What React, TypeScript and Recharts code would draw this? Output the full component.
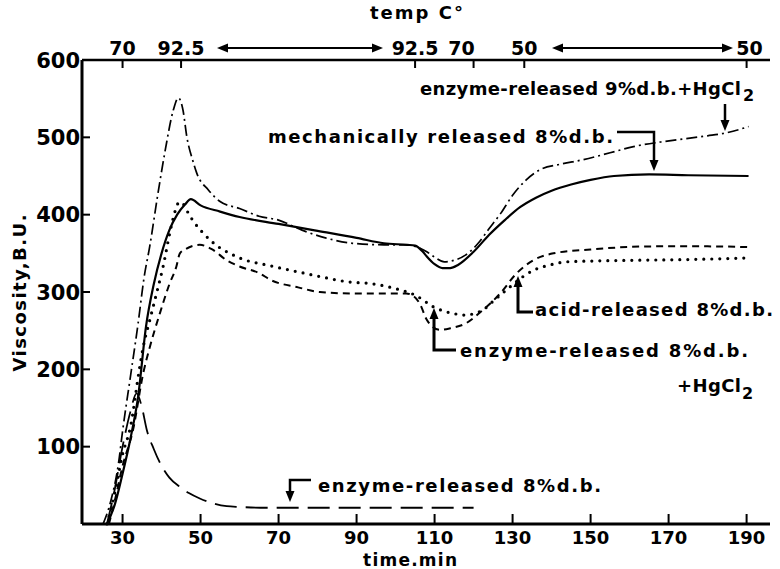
// Viscosity vs time (Brabender curves)
import React from "react";
import { LineChart, Line, XAxis, YAxis } from "recharts";

// ---- data (time in min, viscosity in B.U.) ----
const mechT = [26, 28, 30, 32, 34, 36, 38, 40, 42, 44, 46, 47.5, 50, 55, 60, 70, 80, 90, 97, 103, 105, 107, 108, 110, 112, 114, 116, 120, 124, 128, 132, 136, 140, 145, 150, 156, 165, 175, 190.5];
const mechV = [0, 25, 65, 110, 165, 255, 310, 350, 380, 400, 413, 420, 412, 404, 397, 388, 379, 370, 363, 361, 360, 352, 346, 336, 331, 331, 335, 352, 374, 393, 410, 422, 431, 439, 445, 450, 452, 451, 450];

const enz9T = [25, 27, 29, 30, 32, 34, 35.5, 37, 39, 41, 43, 44.3, 45.5, 46.5, 48, 49, 52, 55, 60, 65, 70, 76, 82, 89, 97, 103, 105, 108, 110, 112.5, 115, 118, 121, 124, 127, 130, 133.5, 137, 142, 148, 155, 161, 168, 174, 180, 184, 188, 190.5];
const enz9V = [0, 30, 80, 120, 190, 260, 318, 360, 425, 485, 535, 551, 535, 500, 470, 454, 432, 417, 408, 398, 393, 380, 370, 363, 361, 361, 359, 352, 345, 339, 341, 348, 362, 382, 402, 425, 445, 458, 465, 471, 480, 488, 494, 498, 502, 505, 510, 514];

const acidT = [26, 28, 30, 32, 34.4, 35.3, 37, 38.7, 40.4, 42.1, 43.5, 44.5, 45.5, 46.4, 47.7, 50.7, 55, 57.5, 60, 67.8, 75, 80.6, 88, 93.4, 101, 103, 105.4, 107.5, 109.6, 112, 115, 118.2, 120, 122.5, 125, 128.5, 132.7, 135.3, 139.6, 143.8, 150, 161, 175, 190.5];
const acidV = [0, 40, 90, 125, 203, 229, 264, 298, 333, 376, 405, 416, 414, 406, 395, 376, 357, 350, 344, 334, 326, 320, 313, 311, 303, 300, 295, 288, 281, 276, 272, 270, 272, 277, 288, 303, 320, 328, 335, 339, 340, 341, 342, 344];

const enzHgT = [26.5, 28, 30, 32.7, 35.3, 37, 39.6, 42, 43.8, 44.7, 46, 49.8, 53, 56.7, 60, 65.2, 67.8, 75, 80.6, 90, 97, 102.7, 104.5, 106.2, 108, 109.5, 111.4, 114, 118.2, 122, 126.8, 131, 135.3, 140.5, 150, 166, 180, 190.5];
const enzHgV = [0, 30, 75, 122, 195, 229, 273, 310, 333, 350, 355, 361, 355, 341, 333, 324, 316, 306, 300, 298, 298, 298, 295, 285, 264, 255, 251, 253, 260, 275, 298, 324, 341, 350, 355, 359, 359, 358];

const enz8T = [26, 28, 30, 32, 33.6, 35, 36.2, 38, 39.6, 42, 44.7, 47, 49.8, 53, 56.7, 60, 66.9, 80, 100, 120];
const enz8V = [0, 45, 100, 145, 169, 150, 122, 97, 79, 60, 48, 40, 33, 27, 23, 22, 21, 21, 21, 21];

const timeTicks = [30, 50, 70, 90, 110, 130, 150, 170, 190];
const viscTicks = [100, 200, 300, 400, 500, 600];
const tempTicks = [30, 45, 105, 120, 133, 190];
const tempLabels = ["70", "92.5", "92.5", "70", "50", "50"];

const zip = (t: number[], v: number[]) => t.map((x, i) => ({ t: x, v: v[i] }));

const FONT = "DejaVu Sans";
const txt = { fontFamily: FONT, fontWeight: 700, fontSize: 18, fill: "#000" } as const;

// ticks point into the plot, drawn by hand
const BottomTick = ({ x, y, payload }: any) => (
  <g>
    <line x1={x} y1={y} x2={x} y2={y - 10} stroke="#000" strokeWidth={2} />
    <text {...txt} x={x} y={y + 20} textAnchor="middle">{payload.value}</text>
  </g>
);
const LeftTick = ({ x, y, payload }: any) => (
  <g>
    <line x1={x} y1={y} x2={x + 8} y2={y} stroke="#000" strokeWidth={2} />
    <text {...txt} fontSize={21} x={x - 2} y={y} dy="0.36em" textAnchor="end">{payload.value}</text>
  </g>
);
const TopTick = ({ x, y, payload }: any) => {
  const i = tempTicks.indexOf(payload.value);
  const nudge = i === 3 ? -12 : i === 5 ? 3 : 0;
  return (
    <g>
      <line x1={x} y1={y} x2={x} y2={y + 8} stroke="#000" strokeWidth={2} />
      <text {...txt} fontSize={19} x={x + nudge} y={y - 5} textAnchor="middle">{tempLabels[i]}</text>
    </g>
  );
};

const Head = ({ x, y, dir }: { x: number; y: number; dir: "up" | "down" | "left" | "right" }) => {
  const l = 11, w = 4.5;
  let pts = "";
  if (dir === "down") pts = `${x},${y} ${x - w},${y - l} ${x + w},${y - l}`;
  if (dir === "up") pts = `${x},${y} ${x - w},${y + l} ${x + w},${y + l}`;
  if (dir === "left") pts = `${x},${y} ${x + l},${y - w} ${x + l},${y + w}`;
  if (dir === "right") pts = `${x},${y} ${x - l},${y - w} ${x - l},${y + w}`;
  return <polygon points={pts} fill="#000" />;
};

const Overlay = () => (
  <svg width={780} height={569} style={{ position: "absolute", left: 0, top: 0, pointerEvents: "none" }}>
    <g stroke="#000" strokeWidth={2.5} fill="none">
      {/* temperature range arrows */}
      <line x1={224} y1={48} x2={376} y2={48} strokeWidth={2} />
      <line x1={559} y1={48} x2={726} y2={48} strokeWidth={2} />
      {/* 9% arrow */}
      <line x1={725} y1={104} x2={725} y2={122} />
      {/* mechanical arrow */}
      <polyline points="617,132 654,132 654,162" />
      {/* acid arrow */}
      <polyline points="518,285 518,312 533,312" strokeWidth={3} />
      {/* enzyme 8% + HgCl2 arrow */}
      <polyline points="434,318 434,350 456,350" strokeWidth={3} />
      {/* enzyme 8% arrow */}
      <polyline points="311,480 290,480 290,494" />
    </g>
    <Head x={217} y={48} dir="left" />
    <Head x={383} y={48} dir="right" />
    <Head x={552} y={48} dir="left" />
    <Head x={733} y={48} dir="right" />
    <Head x={725} y={131} dir="down" />
    <Head x={654} y={171} dir="down" />
    <Head x={518} y={276} dir="up" />
    <Head x={434} y={308} dir="up" />
    <Head x={290} y={502} dir="down" />

    <text {...txt} x={370} y={19} textLength={93}>temp C°</text>
    <text {...txt} x={420} y={95} textLength={321}>enzyme-released 9%d.b.+HgCl</text>
    <text {...txt} x={743} y={101} fontSize={16}>2</text>
    <text {...txt} x={268} y={143} textLength={345}>mechanically released 8%d.b.</text>
    <text {...txt} x={535} y={316} textLength={238}>acid-released 8%d.b.</text>
    <text {...txt} x={460} y={357} textLength={288}>enzyme-released 8%d.b.</text>
    <text {...txt} x={677} y={392} textLength={64}>+HgCl</text>
    <text {...txt} x={742} y={399} fontSize={16}>2</text>
    <text {...txt} x={318} y={492} textLength={283}>enzyme-released 8%d.b.</text>
    <text {...txt} fontSize={17} x={363} y={566} textLength={94}>time.min</text>
    <text {...txt} x={0} y={0} textAnchor="middle" textLength={157} transform="translate(26,293) rotate(-90)">
      Viscosity,B.U.
    </text>
  </svg>
);

export default function App() {
  const axisLine = { stroke: "#000", strokeWidth: 3 };
  return (
    <div style={{ position: "absolute", left: 0, top: 0, width: 780, height: 569, background: "#fff" }}>
      <LineChart width={780} height={569} margin={{ top: 30, right: 10, bottom: 15, left: 22 }}>
        <XAxis
          dataKey="t"
          type="number"
          domain={[19.6, 196]}
          ticks={timeTicks}
          allowDataOverflow
          height={30}
          axisLine={axisLine}
          tickLine={false}
          tickSize={0}
          tickMargin={0}
          tick={<BottomTick />}
        />
        <XAxis
          xAxisId="top"
          orientation="top"
          dataKey="t"
          type="number"
          domain={[19.6, 196]}
          ticks={tempTicks}
          allowDataOverflow
          height={30}
          axisLine={{ stroke: "#000", strokeWidth: 2.5 }}
          tickLine={false}
          tickSize={0}
          tickMargin={0}
          tick={<TopTick />}
        />
        <YAxis
          type="number"
          domain={[0, 600]}
          ticks={viscTicks}
          width={60}
          axisLine={axisLine}
          tickLine={false}
          tickSize={0}
          tickMargin={0}
          tick={<LeftTick />}
        />
        <Line data={zip(enz8T, enz8V)} dataKey="v" type="monotone" stroke="#000" strokeWidth={1.8} strokeDasharray="22 9" dot={false} activeDot={false} isAnimationActive={false} />
        <Line data={zip(enzHgT, enzHgV)} dataKey="v" type="monotone" stroke="#000" strokeWidth={2} strokeDasharray="7 5" dot={false} activeDot={false} isAnimationActive={false} />
        <Line data={zip(acidT, acidV)} dataKey="v" type="monotone" stroke="#000" strokeWidth={3.2} strokeDasharray="0 8" strokeLinecap="round" dot={false} activeDot={false} isAnimationActive={false} />
        <Line data={zip(enz9T, enz9V)} dataKey="v" type="monotone" stroke="#000" strokeWidth={1.7} strokeDasharray="11 4 2 4" dot={false} activeDot={false} isAnimationActive={false} />
        <Line data={zip(mechT, mechV)} dataKey="v" type="monotone" stroke="#000" strokeWidth={2.2} dot={false} activeDot={false} isAnimationActive={false} />
      </LineChart>
      <Overlay />
    </div>
  );
}
